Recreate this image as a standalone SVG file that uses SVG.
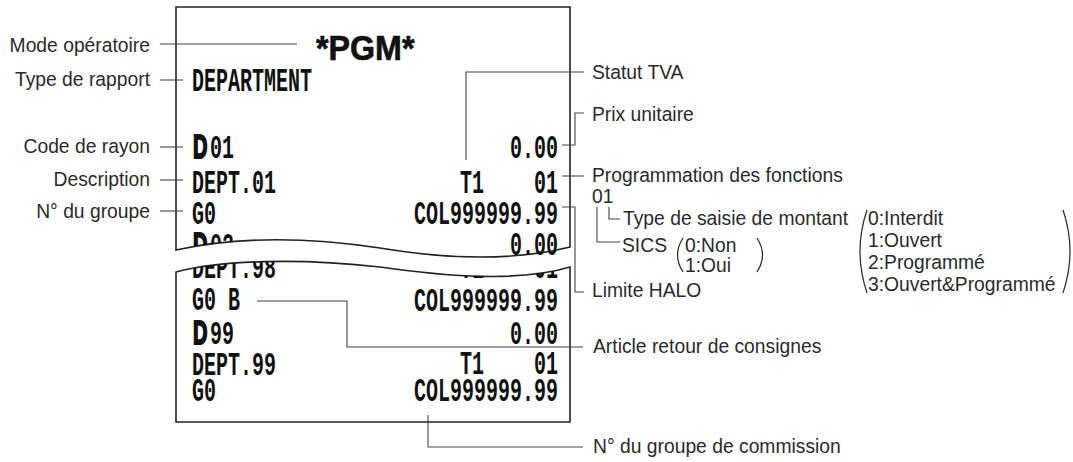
<svg xmlns="http://www.w3.org/2000/svg" width="1073" height="462" viewBox="0 0 1073 462">
<style>
.lbl{font-family:"Liberation Sans",Arial,sans-serif;font-size:19.3px;fill:#2a2a2a}
.end{text-anchor:end}
.r{font-family:"Liberation Mono","DejaVu Sans Mono",monospace;font-weight:bold;font-size:20px;fill:#111}
.bd{font-family:"Liberation Sans",Arial,sans-serif;font-weight:900;font-size:20px;fill:#111;stroke:#111;stroke-width:1.2}
.pgm{font-family:"Liberation Sans",Arial,sans-serif;font-weight:bold;font-size:31px;fill:#111;stroke:#111;stroke-width:0.6}
.ld{fill:none;stroke:#444;stroke-width:1.1}
.paper{fill:#fff;stroke:#222;stroke-width:1.6}
.par{fill:none;stroke:#333;stroke-width:1.3}
</style>
<defs>
<clipPath id="cu"><path d="M176,7 H570 V247 C520,282 450,258 380,248 C300,236 230,238 176,250 Z"/></clipPath>
<clipPath id="cl"><path d="M176,272 C220,260 300,258 380,267 C450,277 520,282 570,267 V422 H176 Z"/></clipPath>
</defs>
<rect width="1073" height="462" fill="#fff"/>

<g id="receipt-top">
<path class="paper" d="M176,250 L176,7 L570,7 L570,247 C510,262 440,258 380,248 C300,236 230,238 176,250 Z"/>
<g clip-path="url(#cu)">
<text class="pgm" transform="translate(316,60) scale(1.04,1.15)">*PGM*</text>
<text class="r" transform="translate(192,91) scale(1,1.7)">DEPARTMENT</text>
<text class="bd" transform="translate(193,158) scale(1,1.7)">D</text>
<text class="r" transform="translate(210,158) scale(1,1.7)">01</text>
<text class="r end" transform="translate(558,158) scale(1,1.7)">0.00</text>
<text class="r" transform="translate(192,193) scale(1,1.7)">DEPT.01</text>
<text class="r end" transform="translate(484,193) scale(1,1.7)">T1</text>
<text class="r end" transform="translate(558,193) scale(1,1.7)">01</text>
<text class="r" transform="translate(192,224) scale(1,1.7)">G0</text>
<text class="r end" transform="translate(558,224) scale(1,1.7)">COL999999.99</text>
<text class="bd" transform="translate(193,256) scale(1,1.7)">D</text>
<text class="r" transform="translate(210,256) scale(1,1.7)">02</text>
<text class="r end" transform="translate(558,255) scale(1,1.7)">0.00</text>
</g>
</g>

<g id="receipt-bottom">
<path class="paper" d="M176,272 C220,260 300,258 380,267 C450,277 520,282 570,267 L570,422 L176,422 Z"/>
<g clip-path="url(#cl)">
<text class="r" transform="translate(192,278) scale(1,1.7)">DEPT.98</text>
<text class="r end" transform="translate(484,278) scale(1,1.7)">T1</text>
<text class="r end" transform="translate(558,278) scale(1,1.7)">01</text>
<text class="r" transform="translate(192,310) scale(1,1.7)">G0 B</text>
<text class="r end" transform="translate(558,311) scale(1,1.7)">COL999999.99</text>
<text class="bd" transform="translate(193,344) scale(1,1.7)">D</text>
<text class="r" transform="translate(210,344) scale(1,1.7)">99</text>
<text class="r end" transform="translate(558,344) scale(1,1.7)">0.00</text>
<text class="r" transform="translate(192,375) scale(1,1.7)">DEPT.99</text>
<text class="r end" transform="translate(484,374) scale(1,1.7)">T1</text>
<text class="r end" transform="translate(558,374) scale(1,1.7)">01</text>
<text class="r" transform="translate(192,401) scale(1,1.7)">G0</text>
<text class="r end" transform="translate(558,401) scale(1,1.7)">COL999999.99</text>
</g>
</g>

<g id="connectors">
<path class="ld" d="M160,44 H297"/>
<path class="ld" d="M160,80 H183"/>
<path class="ld" d="M160,147 H183"/>
<path class="ld" d="M160,180 H183"/>
<path class="ld" d="M160,211 H183"/>
<path class="ld" d="M466,160 V72 H584"/>
<path class="ld" d="M562,145 H575 V113 H584"/>
<path class="ld" d="M562,176 H584"/>
<path class="ld" d="M562,207 H575 V292 H584"/>
<path class="ld" d="M609,207 V219 H620"/>
<path class="ld" d="M597,207 V242 H620"/>
<path class="ld" d="M257,301 H347 V347 H583"/>
<path class="ld" d="M428,415 V447 H583"/>
</g>

<g id="left-labels">
<text class="lbl end" x="150" y="52">Mode opératoire</text>
<text class="lbl end" x="150" y="86">Type de rapport</text>
<text class="lbl end" x="150" y="153">Code de rayon</text>
<text class="lbl end" x="150" y="186">Description</text>
<text class="lbl end" x="150" y="218">N° du groupe</text>
</g>

<g id="right-labels">
<text class="lbl" x="592" y="79">Statut TVA</text>
<text class="lbl" x="592" y="121">Prix unitaire</text>
<text class="lbl" x="592" y="182">Programmation des fonctions</text>
<text class="lbl" x="592" y="203">01</text>
<text class="lbl" x="623" y="225">Type de saisie de montant</text>
<text class="lbl" x="622" y="252">SICS</text>
<text class="lbl" x="592" y="297">Limite HALO</text>
<text class="lbl" x="593" y="353">Article retour de consignes</text>
<text class="lbl" x="593" y="453">N° du groupe de commission</text>
</g>

<g id="sics-options">
<path class="par" d="M683,238 Q672,255 683,272"/>
<path class="par" d="M757,238 Q768,255 757,272"/>
<text class="lbl" x="685" y="252">0:Non</text>
<text class="lbl" x="685" y="272">1:Oui</text>
</g>

<g id="amount-options">
<path class="par" d="M867,210 Q853,251 867,293"/>
<path class="par" d="M1063,210 Q1077,251 1063,293"/>
<text class="lbl" x="868" y="225">0:Interdit</text>
<text class="lbl" x="868" y="247">1:Ouvert</text>
<text class="lbl" x="868" y="269">2:Programmé</text>
<text class="lbl" x="868" y="291">3:Ouvert&amp;Programmé</text>
</g>
</svg>
